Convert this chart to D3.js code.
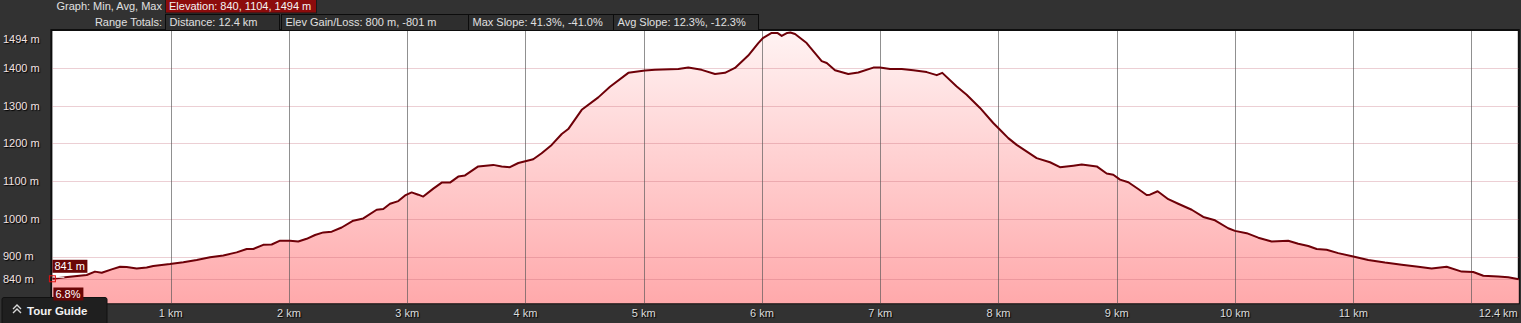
<!DOCTYPE html>
<html lang="en">
<head>
  <meta charset="UTF-8">
  <title>Elevation profile</title>
  <style>
    html, body { margin: 0; padding: 0; background: #323232; overflow: hidden; }
    svg { display: block; font-family: "Liberation Sans", Arial, sans-serif; }
  </style>
</head>
<body>
  <svg></svg>
  <script src="https://cdn.jsdelivr.net/npm/d3@7/dist/d3.min.js"></script>
  <script>
    // distance along the track (km) and elevation (m)
    var distKm = [0, 0.107, 0.29, 0.36, 0.417, 0.501, 0.572, 0.628, 0.713, 0.797, 0.853, 0.994,
      1.107, 1.22, 1.333, 1.445, 1.558, 1.643, 1.699, 1.783, 1.854, 1.925, 2.009, 2.079, 2.15,
      2.221, 2.291, 2.362, 2.446, 2.544, 2.629, 2.742, 2.798, 2.855, 2.925, 2.982, 3.038, 3.094,
      3.136, 3.221, 3.292, 3.362, 3.432, 3.489, 3.601, 3.728, 3.799, 3.869, 3.94, 4.066, 4.137,
      4.222, 4.307, 4.362, 4.476, 4.616, 4.715, 4.87, 5.011, 5.096, 5.293, 5.377, 5.49, 5.603,
      5.687, 5.772, 5.884, 5.969, 6.011, 6.082, 6.13, 6.167, 6.214, 6.24, 6.28, 6.378, 6.406,
      6.505, 6.548, 6.618, 6.73, 6.815, 6.942, 6.998, 7.083, 7.182, 7.28, 7.393, 7.478, 7.525,
      7.647, 7.731, 7.844, 7.956, 8.013, 8.083, 8.154, 8.323, 8.436, 8.52, 8.633, 8.704, 8.831,
      8.915, 8.971, 9.028, 9.098, 9.182, 9.253, 9.281, 9.346, 9.436, 9.52, 9.634, 9.732, 9.831,
      9.943, 10.0, 10.099, 10.197, 10.31, 10.45, 10.535, 10.62, 10.691, 10.775, 10.873, 11.0,
      11.127, 11.268, 11.41, 11.55, 11.663, 11.79, 11.917, 12.015, 12.1, 12.226, 12.311, 12.4];
    var elevM = [841, 845, 851, 860, 857, 866, 873, 872, 868, 871, 875, 880,
      885, 891, 898, 903, 911, 920, 920, 931, 932, 942, 942, 940, 947,
      957, 964, 966, 977, 995, 1001, 1024, 1026, 1040, 1047, 1062, 1070, 1064,
      1059, 1080, 1096, 1096, 1112, 1115, 1139, 1143, 1139, 1137, 1148, 1158, 1174,
      1196, 1225, 1238, 1289, 1322, 1350, 1387, 1393, 1395, 1397, 1401, 1395, 1384,
      1387, 1400, 1433, 1466, 1480, 1493, 1493, 1485, 1493, 1494, 1490, 1466, 1455,
      1418, 1413, 1394, 1384, 1388, 1401, 1401, 1397, 1397, 1394, 1389, 1381, 1387,
      1351, 1329, 1294, 1254, 1236, 1214, 1196, 1161, 1150, 1137, 1141, 1144, 1139,
      1120, 1117, 1104, 1097, 1079, 1063, 1064, 1073, 1052, 1040, 1024, 1005, 996,
      975, 968, 962, 950, 940, 942, 934, 928, 920, 918, 909, 900,
      891, 884, 878, 873, 868, 873, 860, 859, 849, 847, 845, 840];

    var yTicks = [840, 900, 1000, 1100, 1200, 1300, 1400, 1494];
    var xTicks = [1, 2, 3, 4, 5, 6, 7, 8, 9, 10, 11, 12];
    var xTickLabels = ["1 km", "2 km", "3 km", "4 km", "5 km", "6 km", "7 km", "8 km", "9 km", "10 km", "11 km", "12.4 km"];

    var graphLabel = "Graph: Min, Avg, Max";
    var graphValue = "Elevation: 840, 1104, 1494 m";
    var totalsLabel = "Range Totals:";
    var totals = ["Distance: 12.4 km", "Elev Gain/Loss: 800 m, -801 m", "Max Slope: 41.3%, -41.0%", "Avg Slope: 12.3%, -12.3%"];
    var totalWidths = [114, 187, 145, 145];
    var cursorElev = "841 m";
    var cursorSlope = "6.8%";

    var W = 1521, H = 323;
    var svg = d3.select("svg").attr("width", W).attr("height", H);

    svg.append("rect").attr("width", W).attr("height", H).attr("fill", "#323232");

    var x = d3.scaleLinear().domain([0, 12.4]).range([52.4, 1518.8]);
    var y = d3.scaleLinear().domain([776, 1498]).range([303.3, 31]);
    var data = distKm.map(function (d, i) { return { d: d, e: elevM[i] }; });

    // plot background
    svg.append("rect")
      .attr("x", x(0) - 1).attr("y", y(1498) - 1)
      .attr("width", x(12.4) - x(0) + 1).attr("height", y(776) - y(1498) + 1)
      .attr("fill", "#ffffff")
      .attr("stroke", "#0e0e0e").attr("stroke-width", 2);

    // fill gradient
    var defs = svg.append("defs");
    var grad = defs.append("linearGradient")
      .attr("id", "fillGrad")
      .attr("gradientUnits", "userSpaceOnUse")
      .attr("x1", 0).attr("x2", 0)
      .attr("y1", y(1498)).attr("y2", y(776));
    grad.append("stop").attr("offset", "0%").attr("stop-color", "#fff3f3");
    grad.append("stop").attr("offset", "100%").attr("stop-color", "#ffa9ab");

    var area = d3.area()
      .x(function (d) { return x(d.d); })
      .y0(y(776))
      .y1(function (d) { return y(d.e); });
    svg.append("path").datum(data)
      .attr("d", area)
      .attr("fill", "url(#fillGrad)");

    // grid lines over the fill
    svg.append("g").selectAll("line")
      .data(yTicks.filter(function (v) { return v < 1494; }))
      .join("line")
      .attr("x1", x(0)).attr("x2", x(12.4))
      .attr("y1", function (d) { return Math.round(y(d)) + 0.5; })
      .attr("y2", function (d) { return Math.round(y(d)) + 0.5; })
      .attr("stroke", "#c06070").attr("stroke-opacity", 0.3);

    svg.append("g").selectAll("line")
      .data(xTicks)
      .join("line")
      .attr("x1", function (d) { return Math.round(x(d)) + 0.5; })
      .attr("x2", function (d) { return Math.round(x(d)) + 0.5; })
      .attr("y1", y(1498)).attr("y2", y(776))
      .attr("stroke", "#555").attr("stroke-opacity", 0.65);

    // profile line
    var line = d3.line()
      .x(function (d) { return x(d.d); })
      .y(function (d) { return y(d.e); });
    svg.append("path").datum(data)
      .attr("d", line)
      .attr("fill", "none")
      .attr("stroke", "#6e0008")
      .attr("stroke-width", 2)
      .attr("stroke-linejoin", "round");

    // y labels
    svg.append("g").selectAll("text")
      .data(yTicks)
      .join("text")
      .attr("x", 3)
      .attr("y", function (d) { return Math.max(y(d), 39); })
      .attr("dy", "0.35em")
      .attr("font-size", 11)
      .attr("fill", "#f2e2e2")
      .style("text-shadow", "1px 1px 1px #000")
      .text(function (d) { return d + " m"; });

    // x labels
    svg.append("g").selectAll("text")
      .data(xTicks)
      .join("text")
      .attr("x", function (d, i) { return i === xTicks.length - 1 ? x(12.4) - 1 : x(d); })
      .attr("y", 313)
      .attr("dy", "0.35em")
      .attr("text-anchor", function (d, i) { return i === xTicks.length - 1 ? "end" : "middle"; })
      .attr("font-size", 11)
      .attr("fill", "#dcdcdc")
      .style("text-shadow", "1px 1px 1px #000")
      .text(function (d, i) { return xTickLabels[i]; });

    // header
    var head = svg.append("g").attr("font-size", 11).attr("fill", "#e0e0e0");
    head.append("text").attr("x", 162).attr("y", 10).attr("text-anchor", "end").text(graphLabel);
    head.append("rect").attr("x", 165.5).attr("y", -1).attr("width", 151).attr("height", 14)
      .attr("fill", "#8c0c0c").attr("stroke", "#1a1a1a");
    head.append("text").attr("x", 169).attr("y", 10).attr("fill", "#f4f4f4").text(graphValue);

    head.append("text").attr("x", 162).attr("y", 26).attr("text-anchor", "end").text(totalsLabel);
    var bx = 165.5;
    totals.forEach(function (t, i) {
      head.append("rect").attr("x", bx).attr("y", 14.5).attr("width", totalWidths[i]).attr("height", 16)
        .attr("fill", "#2e2e2e").attr("stroke", "#0c0c0c");
      head.append("text").attr("x", bx + 4).attr("y", 26).text(t);
      bx += totalWidths[i] + (i === 0 ? 2 : 0);
    });

    // cursor marker at start
    var cx = x(distKm[0]), cy = y(elevM[0]);
    svg.append("line").attr("x1", cx + 2).attr("x2", cx + 12).attr("y1", cy - 1.5).attr("y2", cy - 1.5)
      .attr("stroke", "#ffffff").attr("stroke-width", 1);
    svg.append("rect").attr("x", cx - 3).attr("y", cy - 3).attr("width", 6).attr("height", 6)
      .attr("fill", "none").attr("stroke", "#e01010").attr("stroke-width", 1);
    svg.append("rect").attr("x", cx).attr("y", cy - 19).attr("width", 35).attr("height", 13).attr("fill", "#6a0606");
    svg.append("text").attr("x", cx + 2).attr("y", cy - 8.5).attr("font-size", 11).attr("fill", "#fff").text(cursorElev);

    // tour guide tab
    var tg = svg.append("g");
    tg.append("rect").attr("x", 2).attr("y", 297.5).attr("width", 105).attr("height", 30).attr("rx", 2)
      .attr("fill", "#1f1f1f").attr("stroke", "#111");
    tg.append("path")
      .attr("d", "M13,309 L17,305 L21,309 M13,313 L17,309 L21,313")
      .attr("fill", "none").attr("stroke", "#d8d8d8").attr("stroke-width", 1.4);
    tg.append("text").attr("x", 27).attr("y", 315).attr("font-size", 11.5).attr("font-weight", "bold")
      .attr("fill", "#f2f2f2").text("Tour Guide");

    svg.append("rect").attr("x", cx + 1).attr("y", 287.5).attr("width", 30).attr("height", 13).attr("fill", "#6a0606");
    svg.append("text").attr("x", cx + 3).attr("y", 298).attr("font-size", 11).attr("fill", "#fff").text(cursorSlope);
  </script>
</body>
</html>
